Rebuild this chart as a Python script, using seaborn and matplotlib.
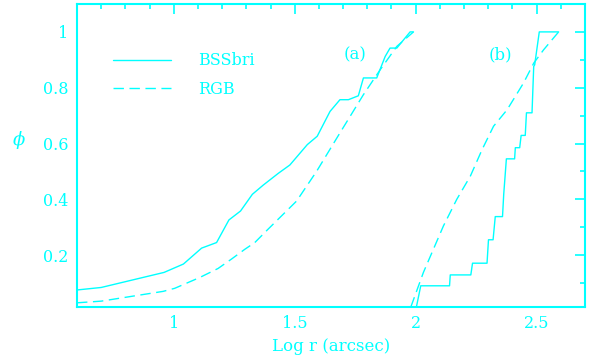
import matplotlib
matplotlib.use("Agg")
import matplotlib.pyplot as plt
from matplotlib.ticker import MultipleLocator
import numpy as np
import pandas as pd
import seaborn as sns

# Cumulative radial distributions, panel (a) inner field, panel (b) outer field
bss_a_x = [0.60, 0.70, 0.96, 1.04, 1.115, 1.177, 1.228, 1.276, 1.325, 1.37, 1.432,
           1.48, 1.552, 1.593, 1.646, 1.687, 1.722, 1.763, 1.784, 1.839, 1.874,
           1.894, 1.922, 1.977, 1.991]
bss_a_y = [0.075, 0.084, 0.138, 0.168, 0.225, 0.245, 0.326, 0.358, 0.418, 0.451,
           0.493, 0.523, 0.596, 0.626, 0.715, 0.757, 0.757, 0.771, 0.835, 0.835,
           0.912, 0.942, 0.942, 1.0, 1.0]

rgb_a_x = [0.60, 0.70, 0.956, 1.004, 1.108, 1.183, 1.239, 1.294, 1.335, 1.39,
           1.508, 1.591, 1.687, 1.784, 1.853, 1.922, 1.991]
rgb_a_y = [0.029, 0.035, 0.07, 0.081, 0.12, 0.152, 0.186, 0.221, 0.245, 0.293,
           0.394, 0.501, 0.638, 0.775, 0.864, 0.948, 1.0]

bss_b_x = [2.003, 2.021, 2.140, 2.143, 2.228, 2.235, 2.295, 2.301, 2.320, 2.329,
           2.359, 2.364, 2.375, 2.409, 2.412, 2.430, 2.436, 2.453, 2.458, 2.481,
           2.488, 2.492, 2.511, 2.591]
bss_b_y = [0.014, 0.090, 0.090, 0.129, 0.129, 0.171, 0.171, 0.255, 0.255, 0.338,
           0.338, 0.418, 0.545, 0.545, 0.585, 0.585, 0.629, 0.629, 0.710, 0.710,
           0.876, 0.882, 1.000, 1.000]

rgb_b_x = [1.98, 2.032, 2.115, 2.17, 2.226, 2.275, 2.322, 2.378, 2.446, 2.488,
           2.529, 2.591]
rgb_b_y = [0.014, 0.138, 0.305, 0.40, 0.483, 0.579, 0.662, 0.721, 0.817, 0.888,
           0.936, 1.0]

panel_labels = ["(a)", "(b)"]
samples = ["BSSbri", "RGB"]

frames = []
for sample, panel, xs, ys in [
    ("BSSbri", "a", bss_a_x, bss_a_y),
    ("RGB", "a", rgb_a_x, rgb_a_y),
    ("BSSbri", "b", bss_b_x, bss_b_y),
    ("RGB", "b", rgb_b_x, rgb_b_y),
]:
    frames.append(pd.DataFrame({"logr": xs, "phi": ys, "sample": sample, "panel": panel}))
df = pd.concat(frames, ignore_index=True)

CYAN = "#00ffff"
FONT = "DejaVu Serif"

sns.set_style("white")
plt.rcParams["font.family"] = [FONT]
plt.rcParams["mathtext.fontset"] = "dejavuserif"

fig = plt.figure(figsize=(5.91, 3.60), dpi=100)
ax = fig.add_axes([77 / 591, 1 - 307 / 360, 508 / 591, 303 / 360])

sns.lineplot(data=df, x="logr", y="phi", style="sample", units="panel",
             estimator=None, sort=False, color=CYAN, linewidth=1.0,
             dashes={"BSSbri": "", "RGB": (7.5, 4)}, style_order=samples, ax=ax)

ax.set_xlim(0.6, 2.7)
ax.set_ylim(0.014, 1.1)

ax.xaxis.set_minor_locator(MultipleLocator(0.1))
ax.yaxis.set_minor_locator(MultipleLocator(0.1))
ax.set_yticks([0.2, 0.4, 0.6, 0.8, 1.0])
ax.set_yticklabels(["0.2", "0.4", "0.6", "0.8", "1"])
ax.set_xticks([1, 1.5, 2, 2.5])
ax.set_xticklabels(["1", "1.5", "2", "2.5"])

ax.tick_params(which="both", direction="in", top=True, right=True, color=CYAN,
               labelcolor=CYAN, labelsize=11.5, width=1.2)
ax.tick_params(which="major", length=7.5, pad=6)
ax.tick_params(which="minor", length=3.8)
for s in ax.spines.values():
    s.set_color(CYAN)
    s.set_linewidth(1.5)

ax.set_xlabel("Log r (arcsec)", color=CYAN, fontsize=12, labelpad=4)
ax.set_ylabel(r"$\phi$", color=CYAN, fontsize=13, rotation=0, va="center")
ax.yaxis.set_label_coords(-0.115, 0.55)

ax.text(1.75, 0.918, panel_labels[0], color=CYAN, fontsize=12, ha="center", va="center")
ax.text(2.35, 0.918, panel_labels[1], color=CYAN, fontsize=12, ha="center", va="center")

handles, labels = ax.get_legend_handles_labels()
pairs = [(h, l) for h, l in zip(handles, labels) if l in samples]
leg = ax.legend([p[0] for p in pairs], [p[1] for p in pairs], loc="upper left",
                bbox_to_anchor=(0.0709, 0.84), frameon=False, borderpad=0,
                borderaxespad=0, handlelength=3.6, handletextpad=1.7,
                labelspacing=0.72, fontsize=11.5)
for t in leg.get_texts():
    t.set_color(CYAN)

fig.savefig("out.png", dpi=100, facecolor="white")
